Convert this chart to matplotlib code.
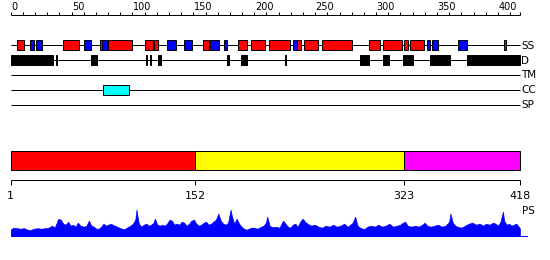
import matplotlib
matplotlib.use("Agg")
import matplotlib.pyplot as plt
from matplotlib.patches import Rectangle

# ---------------- data ----------------
seq_len = 418
ruler_labels = [0, 50, 100, 150, 200, 250, 300, 350, 400]
ruler_minor_step = 10

row_names = ["SS", "D", "TM", "CC", "SP"]

# secondary structure: (start, end, type) residues inclusive; H = helix (red), E = strand (blue)
ss_start = [6, 17, 22, 44, 61, 74, 76, 81, 111, 119, 129, 143, 159, 165, 176, 188, 198,
            213, 233, 236, 242, 257, 295, 307, 324, 329, 343, 347, 368, 406]
ss_end = [11, 19, 26, 56, 66, 75, 79, 100, 117, 121, 136, 149, 163, 171, 178, 194, 209,
          229, 235, 238, 252, 280, 303, 321, 326, 339, 344, 351, 375, 407]
ss_type = ["H", "E", "E", "H", "E", "H", "E", "H", "H", "H", "E", "E", "H", "E", "E", "H", "H",
           "H", "E", "H", "H", "H", "H", "H", "H", "H", "E", "E", "E", "H"]

# disorder segments
d_start = [1, 38, 67, 112, 115, 122, 179, 190, 226, 288, 307, 323, 345, 376]
d_end = [35, 38, 71, 112, 115, 123, 179, 194, 226, 294, 311, 330, 361, 418]

# coiled coil
cc_start = [77]
cc_end = [97]

# domain bar
dom_bounds = [1, 152, 323, 418]
dom_colors = ["#ff0000", "#ffff00", "#ff00ff"]

# PS profile (residue, value)
ps_res = [1, 3, 6, 9, 12, 15, 17, 20, 23, 26, 29, 32, 35, 37, 40, 42, 44, 46, 48, 50, 52, 54,
          56, 58, 61, 63, 65, 67, 69, 71, 73, 75, 77, 79, 81, 83, 86, 88, 90, 92, 94, 96, 99,
          101, 103, 104, 105, 106, 108, 110, 112, 114, 116, 118, 119, 121, 123, 125, 127, 129,
          131, 133, 135, 137, 139, 141, 143, 145, 147, 149, 151, 153, 155, 157, 159, 161, 163,
          165, 167, 169, 171, 173, 175, 177, 179, 181, 182, 184, 186, 188, 190, 192, 194, 196,
          198, 200, 203, 206, 208, 210, 211, 213, 215, 218, 221, 224, 226, 228, 230, 232, 234,
          236, 238, 240, 242, 244, 247, 250, 253, 256, 259, 262, 265, 268, 271, 274, 277, 279,
          281, 283, 285, 287, 289, 291, 293, 296, 299, 302, 305, 308, 311, 314, 317, 320, 322,
          324, 326, 329, 332, 335, 338, 340, 342, 345, 348, 351, 354, 357, 360, 361, 363, 365,
          367, 370, 373, 376, 379, 382, 385, 388, 390, 393, 396, 398, 400, 402, 404, 405, 407,
          409, 411, 413, 415, 417, 418]
ps_val = [6, 8, 7.5, 7, 7.5, 6, 5.5, 7, 7.5, 7, 7.5, 8, 10, 8, 17, 16, 12, 11, 14, 10, 11, 9,
          13, 10, 9, 10, 15, 10, 9, 7, 7, 9, 12, 10, 11, 12, 10, 9, 8, 7, 6.5, 8, 10,
          12, 16, 26, 18, 12, 9, 11, 12, 10, 11, 13, 17, 11, 10, 11, 10, 12,
          16, 15, 11, 12, 11, 14, 13, 10, 12, 15, 16, 12, 10, 11, 13, 14, 11,
          12, 14, 16, 22, 15, 12, 11, 13, 26, 20, 12, 17, 12, 9, 7, 6, 7,
          8, 8, 7, 9, 10, 13, 19, 10, 8.5, 9, 8, 15, 12, 9, 8, 11, 12,
          9, 14, 17, 14, 12, 10, 11, 9, 8, 10, 9, 11, 9, 10, 12, 9, 11,
          13, 19, 10, 8, 7, 7, 9, 10, 9, 11, 9, 10, 12, 9, 10, 11, 13,
          14, 10, 9, 10, 9, 11, 13, 10, 9, 10, 11, 9, 10, 14, 22, 13, 10,
          9, 8, 10, 12, 13, 11, 12, 10, 12, 11, 13, 12, 10, 14, 24, 15, 11,
          12, 10, 11, 12, 9, 7]

# ---------------- layout ----------------
W, H = 550, 260
fig = plt.figure(figsize=(W / 100, H / 100), dpi=100)
fig.patch.set_facecolor("white")
plt.rcParams["font.family"] = "DejaVu Sans"

px = 0.72  # one pixel in points
x0_px = 10.7
sT = (519.8 - x0_px) / seq_len
sB = (520.0 - x0_px) / (seq_len - 1)

# top axes: x residue (0-based ruler), y pixels
axT = fig.add_axes([0, 0, 1, 1])
axT.set_xlim(-x0_px / sT, (W - x0_px) / sT)
axT.set_ylim(H, 0)
axT.axis("off")

# ruler
ruler_y = 15
axT.plot([0, seq_len], [ruler_y, ruler_y], color="black", lw=px, solid_capstyle="butt")
ticks = list(range(0, seq_len, ruler_minor_step)) + [seq_len]
for t in ticks:
    axT.plot([t, t], [ruler_y, ruler_y - 2.7], color="black", lw=px, solid_capstyle="butt")
for lab in ruler_labels:
    axT.text(lab + 0.4, 10.3, str(lab), fontsize=7, ha="left", va="baseline")

row_y = {"SS": 45.3, "D": 60.3, "TM": 75, "CC": 90, "SP": 105}
box_h = 10
for name in row_names:
    y = row_y[name]
    axT.plot([0, seq_len], [y, y], color="black", lw=px, zorder=1, solid_capstyle="butt")
    axT.text(seq_len + 1.2, y + 0.3, name, fontsize=7.5, ha="left", va="center")

def box(ax, s, e, y, color):
    ax.add_patch(Rectangle((s - 1, y - box_h / 2), e - s + 1, box_h, facecolor=color,
                           edgecolor="black", lw=px, zorder=3))

ss_col = {"H": "#ff0000", "E": "#0000ff"}
for s, e, t in zip(ss_start, ss_end, ss_type):
    box(axT, s, e, row_y["SS"], ss_col[t])
for s, e in zip(d_start, d_end):
    box(axT, s, e, row_y["D"], "black")
for s, e in zip(cc_start, cc_end):
    box(axT, s, e, row_y["CC"], "#00ffff")

# bottom axes: x residue (1-based), y pixels
axB = fig.add_axes([0, 0, 1, 1])
axB.set_xlim(1 - x0_px / sB, 1 + (W - x0_px) / sB)
axB.set_ylim(H, 0)
axB.axis("off")
axB.patch.set_alpha(0)

for i in range(len(dom_colors)):
    axB.add_patch(Rectangle((dom_bounds[i], 150.5), dom_bounds[i + 1] - dom_bounds[i], 19.8,
                            facecolor=dom_colors[i], edgecolor="black", lw=px, zorder=3))
axB.plot([dom_bounds[0], dom_bounds[-1]], [180, 180], color="black", lw=px, solid_capstyle="butt")
for b in dom_bounds:
    axB.plot([b, b], [180, 185], color="black", lw=px, solid_capstyle="butt")
    axB.text(b, 196, str(b), fontsize=8, ha="center", va="center")
axB.text(seq_len + 1.5, 211, "PS", fontsize=7.5, ha="left", va="center")

# PS profile
base_px = 235.7
top_px = base_px - 30
right_px = 527
axP = fig.add_axes([x0_px / W, (H - base_px) / H, (right_px - x0_px) / W, 30 / H])
axP.set_xlim(1, 1 + (right_px - x0_px) / sB)
axP.set_ylim(0, 30)
axP.patch.set_alpha(0)
for sp in ["top", "left", "right"]:
    axP.spines[sp].set_visible(False)
axP.spines["bottom"].set_color("#0000ff")
axP.spines["bottom"].set_linewidth(px)
axP.set_xticks([])
axP.set_yticks([])
axP.fill_between(ps_res, 0, ps_val, color="#0000ff", lw=0.5)

fig.savefig("out.png", dpi=100)
